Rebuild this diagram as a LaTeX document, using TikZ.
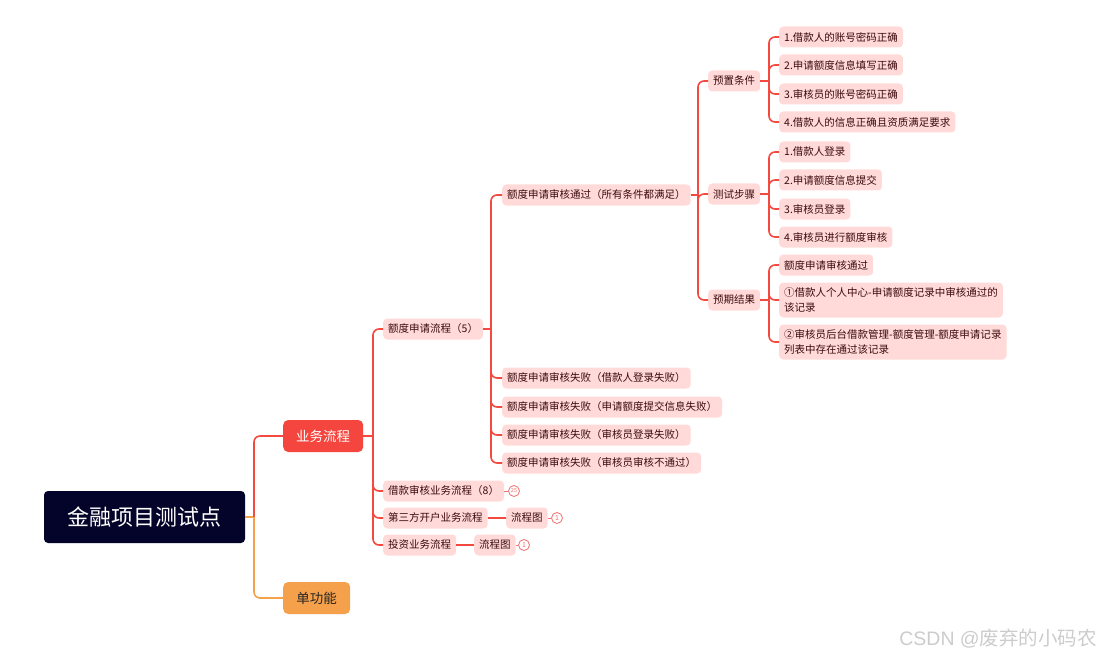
\documentclass[tikz,border=0pt]{standalone}
\usepackage{fontspec}
\setmainfont{Noto Sans CJK SC}
\newfontfamily\wmlatin{Liberation Sans}
\usetikzlibrary{calc}
\definecolor{navy}{HTML}{04042A}
\definecolor{mainred}{HTML}{F4463E}
\definecolor{mainorange}{HTML}{F5A04B}
\definecolor{pinkfill}{HTML}{FFDAD9}
\definecolor{edgered}{HTML}{F4493F}
\definecolor{txt}{HTML}{3D0B0B}
\definecolor{badgered}{HTML}{F07070}
\begin{document}
\begin{tikzpicture}[x=1pt,y=-1pt,
  topic/.style={fill=pinkfill, rounded corners=4pt, anchor=west, inner xsep=5pt, inner ysep=0pt,
    minimum height=21pt, text=txt, font=\fontsize{10.5}{15}\selectfont, align=left},
  twoline/.style={topic, minimum height=35pt},
  edge/.style={draw=edgered, line width=1.6pt},
  redge/.style={edge, rounded corners=6pt},
  badge/.style={circle, draw=badgered, line width=0.8pt, fill=white, inner sep=0pt, minimum size=11pt,
    text=badgered, font=\fontsize{7}{7}\selectfont},
]
\useasboundingbox (0,0) rectangle (1102,663);

% trunk x positions
\coordinate (xR) at (254,0);
\coordinate (xA) at (373,0);
\coordinate (xB) at (491,0);
\coordinate (xC) at (698,0);
\coordinate (xD) at (769,0);

% root and level 1
\node[fill=navy, rounded corners=4pt, minimum width=201pt, minimum height=52pt, text=white,
  font=\fontsize{22}{22}\selectfont] (root) at (144.5,517) {金融项目测试点};
\node[fill=mainred, rounded corners=5pt, anchor=west, minimum width=80pt, minimum height=32pt,
  text=white, font=\fontsize{13.5}{14}\selectfont] (biz) at (283,436) {业务流程};
\node[fill=mainorange, rounded corners=5pt, anchor=west, minimum width=67pt, minimum height=32pt,
  text=black!85, font=\fontsize{13.5}{14}\selectfont] (func) at (283,598) {单功能};

% level 2
\node[topic] (quota) at (383,329) {额度申请流程（5）};
\node[topic] (loan) at (383,491) {借款审核业务流程（8）};
\node[topic] (third) at (383,518) {第三方开户业务流程};
\node[topic] (invest) at (383,545) {投资业务流程};

\node[topic] (flowA) at (506,518) {流程图};
\node[topic] (flowB) at (474,545) {流程图};
\node[badge, font=\fontsize{5.5}{5.5}\selectfont] (bLoan) at (514,491) {25};
\node[badge] (bA) at (557,518) {1};
\node[badge] (bB) at (524,545) {1};

% level 3
\node[topic] (pass) at (502,195) {额度申请审核通过（所有条件都满足）};
\node[topic] (f1) at (502,378) {额度申请审核失败（借款人登录失败）};
\node[topic] (f2) at (502,407) {额度申请审核失败（申请额度提交信息失败）};
\node[topic] (f3) at (502,435) {额度申请审核失败（审核员登录失败）};
\node[topic] (f4) at (502,463) {额度申请审核失败（审核员审核不通过）};

% level 4
\node[topic] (pre) at (708,81) {预置条件};
\node[topic] (steps) at (708,194) {测试步骤};
\node[topic] (exp) at (708,300) {预期结果};

% leaves
\node[topic] (p1) at (779,37) {1.借款人的账号密码正确};
\node[topic] (p2) at (779,65) {2.申请额度信息填写正确};
\node[topic] (p3) at (779,94) {3.审核员的账号密码正确};
\node[topic] (p4) at (779,122) {4.借款人的信息正确且资质满足要求};
\node[topic] (s1) at (779,152) {1.借款人登录};
\node[topic] (s2) at (779,180) {2.申请额度信息提交};
\node[topic] (s3) at (779,209) {3.审核员登录};
\node[topic] (s4) at (779,237) {4.审核员进行额度审核};
\node[topic] (e1) at (779,265) {额度申请审核通过};
\node[twoline] (e2) at (779,300) {①借款人个人中心-申请额度记录中审核通过的\\该记录};
\node[twoline] (e3) at (779,342) {②审核员后台借款管理-额度管理-额度申请记录\\列表中存在通过该记录};

% root connectors
\draw[edge, draw=mainorange] (root.east) -- (root.east -| xR);
\draw[redge] (root.east -| xR) |- (biz.west);
\draw[redge, draw=mainorange] (root.east -| xR) |- (func.west);

% biz connectors
\draw[edge] (biz.east) -- (biz.east -| xA);
\foreach \c in {quota,loan,third,invest}
  \draw[redge] (biz.east -| xA) |- (\c.west);

% quota connectors
\draw[edge] (quota.east) -- (quota.east -| xB);
\foreach \c in {pass,f1,f2,f3,f4}
  \draw[redge] (quota.east -| xB) |- (\c.west);

% pass connectors
\draw[edge] (pass.east) -- (pass.east -| xC);
\foreach \c in {pre,steps,exp}
  \draw[redge] (pass.east -| xC) |- (\c.west);

% leaf connectors
\draw[edge] (pre.east) -- (pre.east -| xD);
\foreach \c in {p1,p2,p3,p4}
  \draw[redge] (pre.east -| xD) |- (\c.west);
\draw[edge] (steps.east) -- (steps.east -| xD);
\foreach \c in {s1,s2,s3,s4}
  \draw[redge] (steps.east -| xD) |- (\c.west);
\draw[edge] (exp.east) -- (exp.east -| xD);
\foreach \c in {e1,e2,e3}
  \draw[redge] (exp.east -| xD) |- (\c.west);

% flow chart links
\draw[edge] (third.east) -- (flowA.west);
\draw[edge] (invest.east) -- (flowB.west);
\draw[draw=badgered, line width=0.8pt] (loan.east) -- (bLoan.west);
\draw[draw=badgered, line width=0.8pt] (flowA.east) -- (bA.west);
\draw[draw=badgered, line width=0.8pt] (flowB.east) -- (bB.west);

% watermark
\node[anchor=east, text=black!20, font=\fontsize{19.5}{19.5}\selectfont, inner sep=0pt] (wm) at (1097,639) {{\wmlatin CSDN @}废弃的小码农};
\end{tikzpicture}
\end{document}
